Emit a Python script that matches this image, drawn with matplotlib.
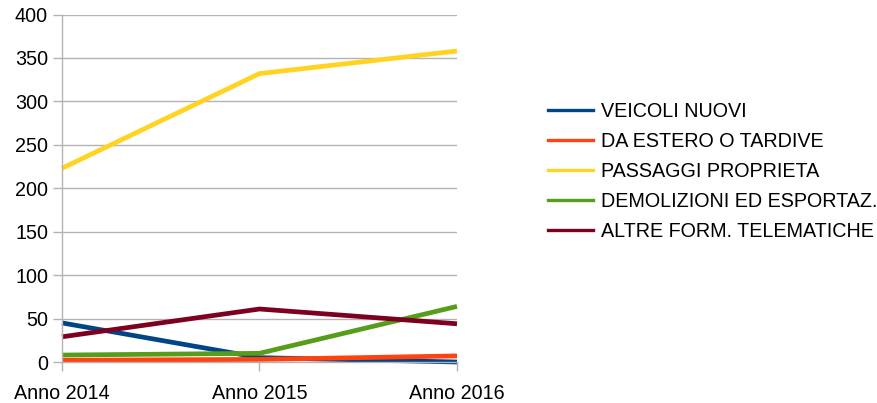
import matplotlib
matplotlib.use("Agg")
import matplotlib.pyplot as plt
from matplotlib.lines import Line2D

categories = ["Anno 2014", "Anno 2015", "Anno 2016"]
series_names = ["VEICOLI NUOVI", "DA ESTERO O TARDIVE", "PASSAGGI PROPRIETA",
                "DEMOLIZIONI ED ESPORTAZ.", "ALTRE FORM. TELEMATICHE"]
veicoli_nuovi = [45, 5, 0]
da_estero = [2, 3, 7]
passaggi = [223, 332, 358]
demolizioni = [8, 10, 64]
altre = [29, 61, 44]
yticks = [0, 50, 100, 150, 200, 250, 300, 350, 400]

colors = ["#004586", "#ff420e", "#ffd320", "#579d1c", "#7e0021"]
values = [veicoli_nuovi, da_estero, passaggi, demolizioni, altre]

plt.rcParams['font.family'] = ['Liberation Sans', 'DejaVu Sans']
W, H = 878, 403
fig = plt.figure(figsize=(W / 100, H / 100), dpi=100)
ax = fig.add_axes([62 / W, 1 - 362 / H, (457 - 62) / W, (362 - 14.5) / H])

x = list(range(len(categories)))
for name, vals, c in zip(series_names, values, colors):
    ax.plot(x, vals, color=c, lw=3.4, solid_capstyle='butt', clip_on=False, label=name)

grid_c = "#b3b3b3"
ax.set_xlim(0, 2)
ax.set_ylim(0, 400)
ax.set_yticks(yticks)
ax.set_xticks(x)
ax.set_xticklabels(categories)
ax.yaxis.grid(True, color=grid_c, lw=1.0)
ax.set_axisbelow(True)
for s in ["top", "right"]:
    ax.spines[s].set_visible(False)
for s in ["left", "bottom"]:
    ax.spines[s].set_color(grid_c)
    ax.spines[s].set_linewidth(1.0)
fs = 14.2
ax.tick_params(axis='both', colors=grid_c, labelcolor='black', labelsize=fs,
               length=6.5, width=1.0)
ax.tick_params(axis='y', pad=3.5)
ax.tick_params(axis='x', pad=9)

leg_handles = [Line2D([0], [0], color=c, lw=2.4) for c in colors]
fig.legend(leg_handles, series_names, loc='center left',
           bbox_to_anchor=(548 / W, 1 - 171.5 / H), frameon=False,
           fontsize=fs, borderpad=0, borderaxespad=0, handlelength=2.3,
           handletextpad=0.4, labelspacing=0.56)

fig.savefig("out.png", dpi=100)
